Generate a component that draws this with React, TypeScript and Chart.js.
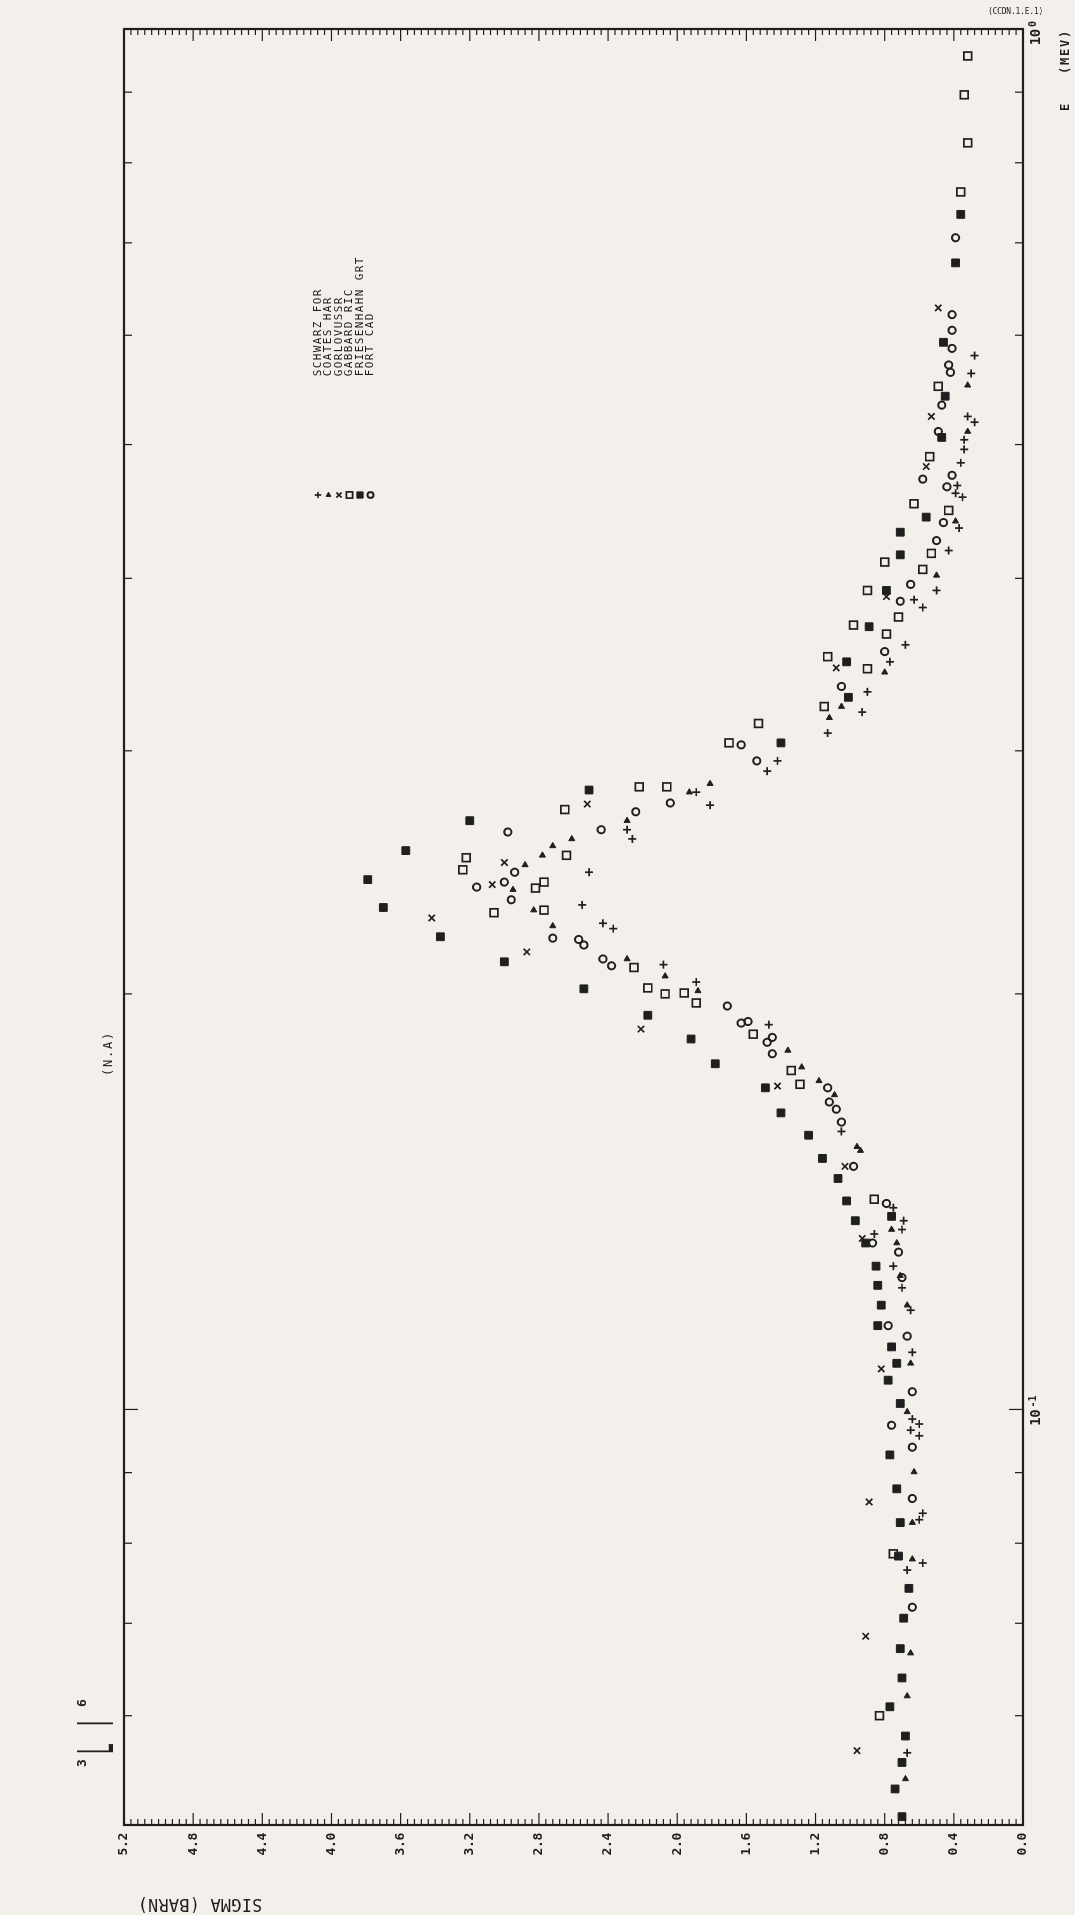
import { useEffect, useRef } from "react";
import { Chart, registerables } from "chart.js";
import { drawPoint } from "chart.js/helpers";

Chart.register(...registerables);

// Page is portrait; the plot itself is laid out landscape and turned a quarter turn.
const PAGE_W = 1075;
const PAGE_H = 1915;
const INK = "#1f1f1f";
const PAPER = "#f3efea";
const MONO = '"DejaVu Sans Mono", monospace';

// Axis ranges
const E_MIN = 0.05;
const E_MAX = 1.0;
const SIGMA_MIN = 0;
const SIGMA_MAX = 5.2;

// Tick values / labels
const sigmaLabelValues = [0, 0.4, 0.8, 1.2, 1.6, 2.0, 2.4, 2.8, 3.2, 3.6, 4.0, 4.4, 4.8, 5.2];
const sigmaTickLabels = ["0.0", "0.4", "0.8", "1.2", "1.6", "2.0", "2.4", "2.8", "3.2", "3.6", "4.0", "4.4", "4.8", "5.2"];
const energyMinorTicks = [0.06, 0.07, 0.08, 0.09, 0.2, 0.3, 0.4, 0.5, 0.6, 0.7, 0.8, 0.9];
const energyDecades = [0.1, 1.0];
const energyDecadeExponents = ["-1", "0"];

const seriesLabels = ["SCHWARZ FOR", "COATES HAR", "GORLOVUSSR", "GABBARD RIC", "FRIESENHAHN GRT", "FORT CAD"];

// SCHWARZ FOR
const schwarzE = [0.58, 0.563, 0.524, 0.519, 0.504, 0.496, 0.485, 0.467, 0.461, 0.458, 0.435, 0.419, 0.392, 0.386, 0.381, 0.358, 0.348, 0.331, 0.320, 0.309, 0.295, 0.290, 0.280, 0.274, 0.263, 0.259, 0.245, 0.232, 0.225, 0.223, 0.210, 0.204, 0.190, 0.159, 0.140, 0.137, 0.135, 0.134, 0.127, 0.1225, 0.118, 0.110, 0.0984, 0.0976, 0.0966, 0.0957, 0.0841, 0.0832, 0.0774, 0.0765, 0.0564];
const schwarzSigma = [0.28, 0.30, 0.32, 0.28, 0.34, 0.34, 0.36, 0.38, 0.39, 0.35, 0.37, 0.43, 0.50, 0.63, 0.58, 0.68, 0.77, 0.90, 0.93, 1.13, 1.42, 1.48, 1.89, 1.81, 2.29, 2.26, 2.51, 2.55, 2.43, 2.37, 2.08, 1.89, 1.47, 1.05, 0.75, 0.69, 0.70, 0.86, 0.75, 0.70, 0.65, 0.64, 0.64, 0.60, 0.65, 0.60, 0.58, 0.60, 0.58, 0.67, 0.67];

// COATES HAR
const coatesE = [0.280, 0.284, 0.267, 0.259, 0.256, 0.252, 0.248, 0.238, 0.230, 0.224, 0.212, 0.206, 0.201, 0.182, 0.177, 0.173, 0.169, 0.154, 0.155, 0.135, 0.132, 0.125, 0.119, 0.108, 0.0996, 0.0901, 0.0828, 0.0779, 0.0666, 0.0620, 0.0540, 0.552, 0.511, 0.440, 0.402, 0.342, 0.323, 0.317];
const coatesSigma = [1.93, 1.81, 2.29, 2.61, 2.72, 2.78, 2.88, 2.95, 2.83, 2.72, 2.29, 2.07, 1.88, 1.36, 1.28, 1.18, 1.09, 0.94, 0.96, 0.76, 0.73, 0.71, 0.67, 0.65, 0.67, 0.63, 0.64, 0.64, 0.65, 0.67, 0.68, 0.32, 0.32, 0.39, 0.50, 0.80, 1.05, 1.12];

// GORLOVUSSR
const gorlovE = [0.2745, 0.249, 0.240, 0.227, 0.2145, 0.1886, 0.1715, 0.150, 0.133, 0.107, 0.0857, 0.0685, 0.0566, 0.524, 0.482, 0.388, 0.3445, 0.628];
const gorlovSigma = [2.52, 3.00, 3.07, 3.42, 2.87, 2.21, 1.42, 1.03, 0.93, 0.82, 0.89, 0.91, 0.96, 0.53, 0.56, 0.79, 1.08, 0.49];

// GABBARD RIC
const gabbardE = [0.2825, 0.2825, 0.272, 0.252, 0.251, 0.246, 0.2386, 0.241, 0.229, 0.230, 0.209, 0.202, 0.200, 0.2003, 0.197, 0.187, 0.176, 0.172, 0.142, 0.0786, 0.0600, 0.551, 0.490, 0.453, 0.448, 0.417, 0.411, 0.406, 0.392, 0.375, 0.370, 0.3645, 0.351, 0.344, 0.323, 0.314, 0.304, 0.956, 0.896, 0.827, 0.762];
const gabbardSigma = [2.22, 2.06, 2.65, 2.64, 3.22, 3.24, 2.82, 2.77, 3.06, 2.77, 2.25, 2.17, 2.07, 1.96, 1.89, 1.56, 1.34, 1.29, 0.86, 0.75, 0.83, 0.49, 0.54, 0.63, 0.43, 0.53, 0.80, 0.58, 0.90, 0.72, 0.98, 0.79, 1.13, 0.90, 1.15, 1.53, 1.70, 0.32, 0.34, 0.32, 0.36];

// FRIESENHAHN GRT
const friesenhahnE = [0.281, 0.267, 0.254, 0.242, 0.231, 0.220, 0.211, 0.2017, 0.193, 0.1855, 0.178, 0.171, 0.164, 0.158, 0.152, 0.147, 0.1416, 0.137, 0.132, 0.127, 0.123, 0.138, 0.119, 0.115, 0.111, 0.108, 0.105, 0.101, 0.0927, 0.0876, 0.0828, 0.0783, 0.0742, 0.0706, 0.0671, 0.0639, 0.0609, 0.0580, 0.0555, 0.0531, 0.0507, 0.542, 0.506, 0.443, 0.432, 0.416, 0.392, 0.369, 0.348, 0.328, 0.304, 0.734, 0.677, 0.593];
const friesenhahnSigma = [2.51, 3.20, 3.57, 3.79, 3.70, 3.37, 3.00, 2.54, 2.17, 1.92, 1.78, 1.49, 1.40, 1.24, 1.16, 1.07, 1.02, 0.97, 0.91, 0.85, 0.84, 0.76, 0.82, 0.84, 0.76, 0.73, 0.78, 0.71, 0.77, 0.73, 0.71, 0.72, 0.66, 0.69, 0.71, 0.70, 0.77, 0.68, 0.70, 0.74, 0.70, 0.45, 0.47, 0.56, 0.71, 0.71, 0.79, 0.89, 1.02, 1.01, 1.40, 0.36, 0.39, 0.46];

// FORT CAD
const fortE = [0.303, 0.295, 0.275, 0.271, 0.262, 0.263, 0.245, 0.239, 0.241, 0.234, 0.2195, 0.219, 0.217, 0.212, 0.2096, 0.196, 0.1905, 0.191, 0.1845, 0.186, 0.181, 0.171, 0.167, 0.165, 0.1615, 0.150, 0.132, 0.141, 0.130, 0.1246, 0.115, 0.113, 0.103, 0.0974, 0.0939, 0.0862, 0.0719, 0.571, 0.564, 0.534, 0.511, 0.472, 0.475, 0.466, 0.439, 0.426, 0.396, 0.385, 0.354, 0.334, 0.706, 0.621, 0.605, 0.587];
const fortSigma = [1.63, 1.54, 2.04, 2.24, 2.98, 2.44, 2.94, 3.16, 3.00, 2.96, 2.72, 2.57, 2.54, 2.43, 2.38, 1.71, 1.63, 1.59, 1.48, 1.45, 1.45, 1.13, 1.12, 1.08, 1.05, 0.98, 0.87, 0.79, 0.72, 0.70, 0.78, 0.67, 0.64, 0.76, 0.64, 0.64, 0.64, 0.43, 0.42, 0.47, 0.49, 0.58, 0.41, 0.44, 0.46, 0.50, 0.65, 0.71, 0.80, 1.05, 0.39, 0.41, 0.41, 0.41];

const seriesEnergies = [schwarzE, coatesE, gorlovE, gabbardE, friesenhahnE, fortE];
const seriesSigmas = [schwarzSigma, coatesSigma, gorlovSigma, gabbardSigma, friesenhahnSigma, fortSigma];

type MarkStyle = { pointStyle: string; radius: number; filled: boolean; rotation: number; borderWidth: number };
const markStyles: MarkStyle[] = [
  { pointStyle: "cross", radius: 4, filled: false, rotation: 0, borderWidth: 1.7 },
  { pointStyle: "triangle", radius: 3.5, filled: true, rotation: 90, borderWidth: 1 },
  { pointStyle: "crossRot", radius: 4.5, filled: false, rotation: 0, borderWidth: 1.7 },
  { pointStyle: "rect", radius: 5.5, filled: false, rotation: 0, borderWidth: 1.7 },
  { pointStyle: "rect", radius: 5.5, filled: true, rotation: 0, borderWidth: 1 },
  { pointStyle: "circle", radius: 3.6, filled: false, rotation: 0, borderWidth: 2 },
];

function line(ctx: CanvasRenderingContext2D, x1: number, y1: number, x2: number, y2: number) {
  ctx.beginPath();
  ctx.moveTo(x1, y1);
  ctx.lineTo(x2, y2);
  ctx.stroke();
}

// plotter-style lettering: fixed character pitch, chars centred on their cells
function spaced(ctx: CanvasRenderingContext2D, text: string, x: number, y: number, pitch: number) {
  ctx.textAlign = "center";
  for (let i = 0; i < text.length; i++) ctx.fillText(text[i], x + i * pitch + pitch / 2, y);
}

const plotterFurniture = {
  id: "plotterFurniture",
  beforeDraw(chart: any) {
    const ctx: CanvasRenderingContext2D = chart.ctx;
    ctx.save();
    ctx.fillStyle = PAPER;
    ctx.fillRect(0, 0, chart.width, chart.height);
    ctx.restore();
  },
  afterDatasetsDraw(chart: any) {
    const ctx: CanvasRenderingContext2D = chart.ctx;
    const a = chart.chartArea;
    const xs = chart.scales.x;
    const ys = chart.scales.y;
    ctx.save();
    ctx.strokeStyle = INK;
    ctx.fillStyle = INK;

    // frame
    ctx.lineWidth = 2.2;
    ctx.strokeRect(a.left, a.top, a.right - a.left, a.bottom - a.top);

    // cross-section ticks on both vertical edges, pointing inward
    ctx.lineWidth = 1.2;
    for (let i = 0; i <= 130; i++) {
      const v = i * 0.04;
      const py = ys.getPixelForValue(v);
      const len = i % 10 === 0 ? 12 : 6;
      line(ctx, a.left, py, a.left + len, py);
      line(ctx, a.right, py, a.right - len, py);
    }
    // energy ticks on top and bottom edges
    for (const e of energyMinorTicks) {
      const px = xs.getPixelForValue(e);
      line(ctx, px, a.top, px, a.top + 8);
      line(ctx, px, a.bottom, px, a.bottom - 8);
    }
    for (const e of energyDecades) {
      const px = xs.getPixelForValue(e);
      line(ctx, px, a.top, px, a.top + 14);
      line(ctx, px, a.bottom, px, a.bottom - 14);
    }

    // cross-section labels
    ctx.textBaseline = "middle";
    ctx.font = `bold 13px ${MONO}`;
    sigmaLabelValues.forEach((v, i) => {
      const py = ys.getPixelForValue(v);
      const t = sigmaTickLabels[i];
      const pitch = 7.4;
      spaced(ctx, t, a.left - 8 - t.length * pitch, py, pitch);
    });

    // energy decade labels  10^n
    ctx.textBaseline = "alphabetic";
    energyDecades.forEach((e, i) => {
      const px = xs.getPixelForValue(e);
      ctx.font = `bold 14px ${MONO}`;
      spaced(ctx, "10", px - 16, a.bottom + 17, 8);
      ctx.font = `bold 10px ${MONO}`;
      spaced(ctx, energyDecadeExponents[i], px + 2, a.bottom + 13, 6);
    });

    // axis titles
    ctx.font = `bold 12px ${MONO}`;
    ctx.textBaseline = "middle";
    spaced(ctx, "E", 1803, a.bottom + 43, 9);
    spaced(ctx, "(MEV)", 1840, a.bottom + 43, 9);

    ctx.save();
    ctx.translate(12, 200);
    ctx.rotate(-Math.PI / 2);
    ctx.font = `17px ${MONO}`;
    const title = "SIGMA (BARN)";
    spaced(ctx, title, -(title.length * 10.4) / 2, 0, 10.4);
    ctx.restore();

    // file reference in the corner
    ctx.save();
    ctx.translate(1903, 988);
    ctx.rotate(Math.PI / 2);
    ctx.font = `8px ${MONO}`;
    ctx.textBaseline = "middle";
    spaced(ctx, "(CCDN.1.E.1)", 0, 0, 4.6);
    ctx.restore();

    // reaction title
    ctx.font = `12px ${MONO}`;
    spaced(ctx, "(N.A)", 838, 109, 9);

    // nuclide tag
    ctx.font = `bold 13px ${MONO}`;
    ctx.textBaseline = "middle";
    spaced(ctx, "3", 147, 83, 10);
    spaced(ctx, "6", 207, 83, 10);
    ctx.textBaseline = "alphabetic";
    ctx.font = `24px "DejaVu Sans"`;
    ctx.save();
    ctx.translate(161, 113);
    ctx.scale(0.75, 2.1);
    ctx.textAlign = "left";
    ctx.fillText("L", 0, 0);
    ctx.restore();
    ctx.save();
    ctx.translate(189, 113);
    ctx.scale(0.75, 2.1);
    ctx.textAlign = "left";
    ctx.fillText("I", 0, 0);
    ctx.restore();

    // legend: symbol, then label
    ctx.font = `11px ${MONO}`;
    ctx.textBaseline = "middle";
    seriesLabels.forEach((label, i) => {
      const yRow = 318 + i * 10.5;
      const st = markStyles[i];
      ctx.save();
      ctx.fillStyle = st.filled ? INK : "rgba(0,0,0,0)";
      ctx.strokeStyle = INK;
      ctx.lineWidth = st.borderWidth;
      drawPoint(ctx, { pointStyle: st.pointStyle as any, radius: st.radius * 0.8, rotation: st.rotation, borderWidth: st.borderWidth }, 1420, yRow);
      ctx.restore();
      ctx.fillStyle = INK;
      spaced(ctx, label, 1538, yRow, 8);
    });

    ctx.restore();
  },
};

export default function App() {
  const canvasRef = useRef<HTMLCanvasElement | null>(null);

  useEffect(() => {
    const canvas = canvasRef.current;
    if (!canvas) return;
    const datasets = seriesLabels.map((label, i) => {
      const st = markStyles[i];
      return {
        label,
        data: seriesEnergies[i].map((e, k) => ({ x: e, y: seriesSigmas[i][k] })),
        pointStyle: st.pointStyle as any,
        pointRadius: st.radius,
        pointRotation: st.rotation,
        pointBorderWidth: st.borderWidth,
        borderColor: INK,
        backgroundColor: st.filled ? INK : "rgba(0,0,0,0)",
        showLine: false,
      };
    });
    const chart = new Chart(canvas, {
      type: "scatter",
      data: { datasets },
      options: {
        animation: false,
        responsive: false,
        devicePixelRatio: 1,
        layout: { padding: { left: 90, right: 29, top: 124, bottom: 52 } },
        plugins: { legend: { display: false }, tooltip: { enabled: false } },
        scales: {
          x: { type: "logarithmic", min: E_MIN, max: E_MAX, display: false },
          y: { type: "linear", min: SIGMA_MIN, max: SIGMA_MAX, display: false },
        },
      },
      plugins: [plotterFurniture],
    });
    return () => chart.destroy();
  }, []);

  return (
    <div
      style={{
        position: "fixed",
        left: 0,
        top: 0,
        width: PAGE_W,
        height: PAGE_H,
        overflow: "hidden",
        background: PAPER,
      }}
    >
      <canvas
        ref={canvasRef}
        width={PAGE_H}
        height={PAGE_W}
        style={{
          position: "absolute",
          left: 0,
          top: 0,
          width: PAGE_H,
          height: PAGE_W,
          transformOrigin: "0 0",
          transform: `translateY(${PAGE_H}px) rotate(-90deg)`,
        }}
      />
    </div>
  );
}
